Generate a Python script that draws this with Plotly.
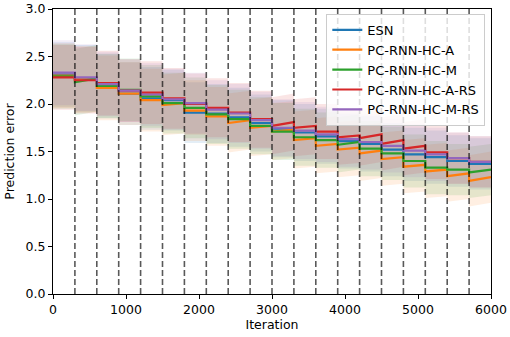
import plotly.graph_objects as go

# Segment boundaries (iterations)
edges = [0, 300, 600, 900, 1200, 1500, 1800, 2100, 2400, 2700, 3000,
         3300, 3600, 3900, 4200, 4500, 4800, 5100, 5400, 5700, 6000]
phase_lines = [300, 600, 900, 1200, 1500, 1800, 2100, 2400, 2700, 3000,
               3300, 3600, 3900, 4200, 4500, 4800, 5100, 5400, 5700]

# Mean prediction error at start / end of each segment
esn_start = [2.31, 2.27, 2.19, 2.11, 2.06, 2.04, 1.91, 1.90, 1.86, 1.80,
             1.74, 1.70, 1.66, 1.61, 1.58, 1.52, 1.47, 1.44, 1.40, 1.37]
esn_end = [2.31, 2.27, 2.19, 2.11, 2.06, 2.04, 1.91, 1.90, 1.86, 1.80,
           1.74, 1.70, 1.66, 1.61, 1.58, 1.52, 1.47, 1.44, 1.40, 1.37]
a_start = [2.30, 2.26, 2.17, 2.11, 2.04, 1.99, 1.93, 1.87, 1.80, 1.75,
           1.71, 1.62, 1.56, 1.52, 1.48, 1.42, 1.34, 1.29, 1.24, 1.19]
a_end = [2.30, 2.26, 2.17, 2.11, 2.04, 2.01, 1.93, 1.87, 1.83, 1.77,
         1.73, 1.64, 1.58, 1.54, 1.51, 1.44, 1.36, 1.31, 1.27, 1.23]
m_start = [2.29, 2.23, 2.19, 2.15, 2.08, 2.01, 1.96, 1.89, 1.84, 1.77,
           1.71, 1.65, 1.62, 1.57, 1.53, 1.48, 1.40, 1.33, 1.31, 1.28]
m_end = [2.29, 2.27, 2.19, 2.15, 2.08, 2.01, 1.96, 1.89, 1.84, 1.77,
         1.71, 1.65, 1.62, 1.60, 1.53, 1.48, 1.40, 1.33, 1.31, 1.31]
ars_start = [2.28, 2.25, 2.22, 2.14, 2.12, 2.06, 2.00, 1.96, 1.91, 1.84,
             1.77, 1.75, 1.71, 1.65, 1.64, 1.58, 1.53, 1.49, 1.43, 1.39]
ars_end = [2.28, 2.25, 2.22, 2.14, 2.12, 2.06, 2.00, 1.96, 1.91, 1.84,
           1.81, 1.77, 1.71, 1.67, 1.68, 1.62, 1.56, 1.49, 1.43, 1.39]
mrs_start = [2.33, 2.28, 2.21, 2.14, 2.10, 2.05, 2.01, 1.94, 1.90, 1.83,
             1.75, 1.72, 1.68, 1.63, 1.60, 1.56, 1.51, 1.47, 1.43, 1.39]
mrs_end = [2.33, 2.28, 2.21, 2.14, 2.10, 2.05, 2.01, 1.94, 1.90, 1.83,
           1.75, 1.72, 1.68, 1.63, 1.60, 1.56, 1.51, 1.47, 1.43, 1.39]

# Half-width of the shaded spread per segment
spread = [0.34, 0.35, 0.34, 0.33, 0.33, 0.32, 0.32, 0.31, 0.31, 0.30,
          0.30, 0.30, 0.29, 0.29, 0.29, 0.28, 0.28, 0.28, 0.27, 0.27]

series = [
    ("ESN", (31, 119, 180), esn_start, esn_end),
    ("PC-RNN-HC-A", (255, 127, 14), a_start, a_end),
    ("PC-RNN-HC-M", (44, 160, 44), m_start, m_end),
    ("PC-RNN-HC-A-RS", (214, 39, 40), ars_start, ars_end),
    ("PC-RNN-HC-M-RS", (148, 103, 189), mrs_start, mrs_end),
]


def build(starts, ends):
    xs, ys, sp = [], [], []
    for k in range(len(starts)):
        xs += [edges[k], edges[k + 1]]
        ys += [starts[k], ends[k]]
        sp += [spread[k], spread[k]]
    return xs, ys, sp


fig = go.Figure()

# Shaded bands first
for name, c, s, e in series:
    xs, ys, sp = build(s, e)
    lo = [y - d for y, d in zip(ys, sp)]
    hi = [y + d for y, d in zip(ys, sp)]
    fig.add_trace(go.Scatter(x=xs, y=lo, mode="lines", line=dict(width=0),
                             showlegend=False, hoverinfo="skip"))
    fig.add_trace(go.Scatter(x=xs, y=hi, mode="lines", line=dict(width=0),
                             fill="tonexty",
                             fillcolor=f"rgba({c[0]},{c[1]},{c[2]},0.12)",
                             showlegend=False, hoverinfo="skip"))

# Mean lines
for name, c, s, e in series:
    xs, ys, sp = build(s, e)
    fig.add_trace(go.Scatter(x=xs, y=ys, mode="lines", name=name,
                             line=dict(color=f"rgb({c[0]},{c[1]},{c[2]})", width=2.2)))

for xv in phase_lines:
    fig.add_shape(type="line", x0=xv, x1=xv, y0=0, y1=3, xref="x", yref="y",
                  line=dict(color="rgba(0,0,0,0.65)", width=1.6, dash="6px,3px"),
                  layer="above")

axis_common = dict(showline=True, linecolor="black", linewidth=1, mirror=True,
                   ticks="outside", ticklen=4, tickcolor="black", showgrid=False,
                   zeroline=False, automargin=False,
                   tickfont=dict(size=12.5, color="black"),
                   title_font=dict(size=12.5, color="black"))

fig.update_xaxes(range=[0, 6000], tickvals=[0, 1000, 2000, 3000, 4000, 5000, 6000],
                 title_text="Iteration", title_standoff=4, **axis_common)
fig.update_yaxes(range=[0, 3.0], tickvals=[0, 0.5, 1.0, 1.5, 2.0, 2.5, 3.0],
                 tickformat=".1f", title_text="Prediction error", title_standoff=8,
                 **axis_common)

fig.update_layout(
    width=510, height=337,
    margin=dict(l=53, r=19, t=9, b=43),
    paper_bgcolor="white", plot_bgcolor="white",
    font=dict(family="DejaVu Sans", size=12.5, color="black"),
    legend=dict(x=0.987, y=0.983, xanchor="right", yanchor="top",
                traceorder="normal",
                bgcolor="rgba(255,255,255,0.8)", bordercolor="#cccccc",
                borderwidth=1, font=dict(size=13), tracegroupgap=0,
                itemwidth=30),
    showlegend=True,
)

fig.write_html("out.html", config={"displayModeBar": False},
               post_script="document.body.style.margin='0';document.body.style.padding='0';")
